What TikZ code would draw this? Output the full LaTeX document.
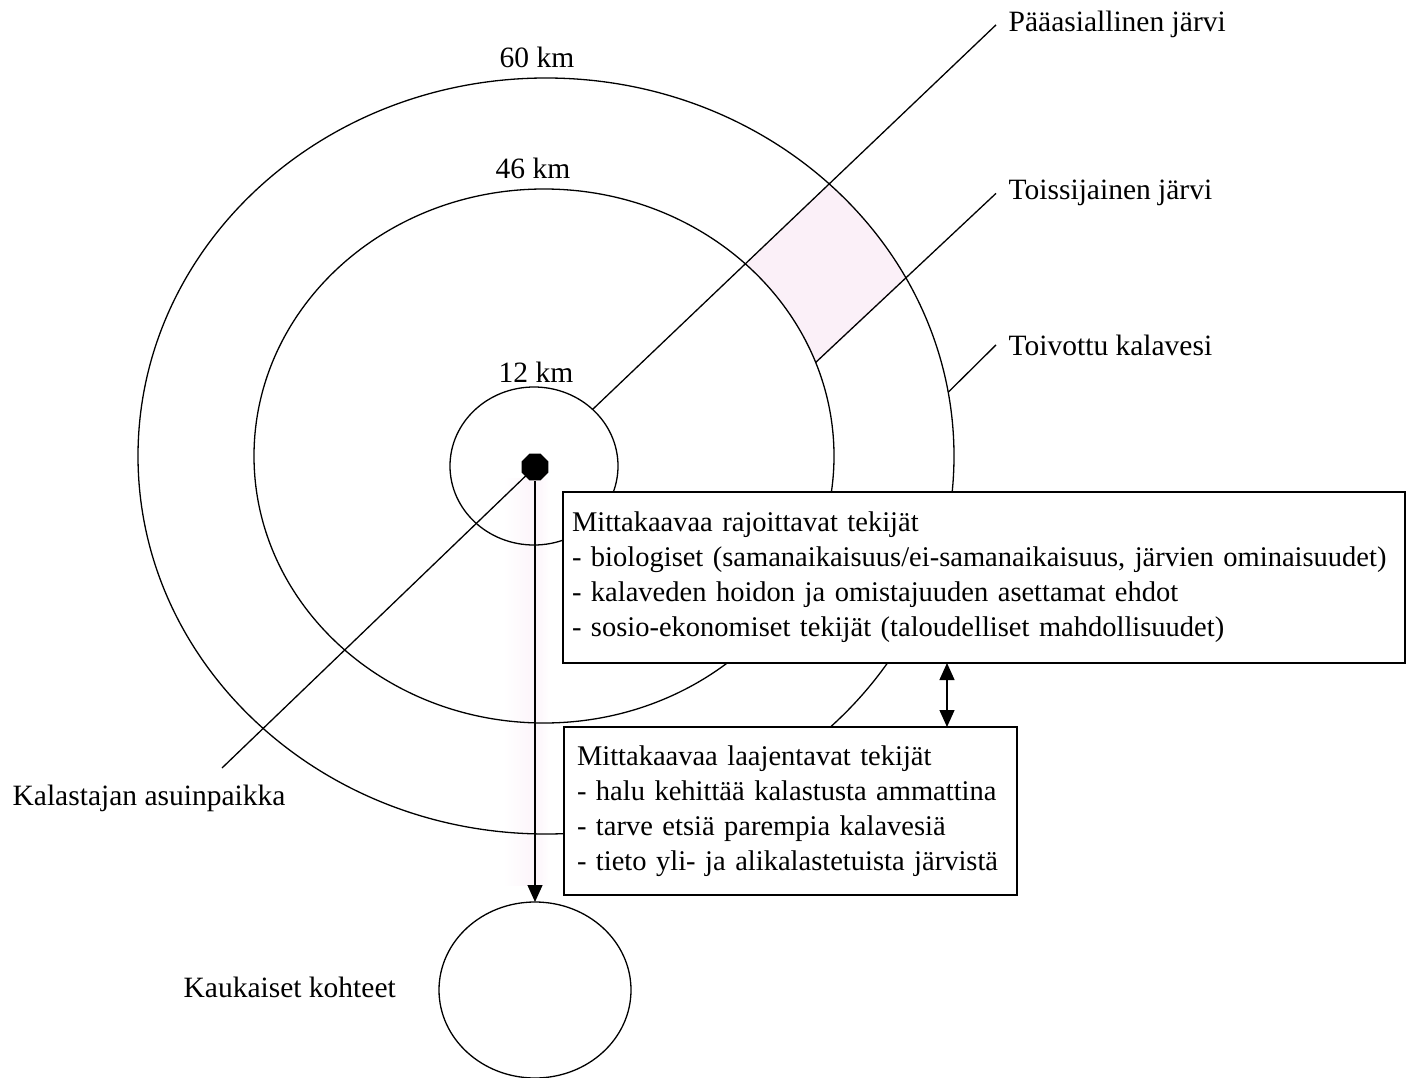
\documentclass[tikz,border=0pt]{standalone}
\usepackage{fontspec}
\setmainfont{Liberation Serif}
\usetikzlibrary{shapes.geometric,arrows.meta,calc}
\definecolor{pinkfill}{RGB}{251,240,248}
\definecolor{stripfill}{RGB}{252,244,250}
\begin{document}
\begin{tikzpicture}[x=1pt,y=-1pt,line width=1.3pt,
  >={Triangle[width=15pt,length=17pt]},
  ring/.style={ellipse,draw,inner sep=0pt,outer sep=0pt},
  lbl/.style={inner sep=0pt,font=\fontsize{29.5}{35}\selectfont},
  rlbl/.style={lbl,inner xsep=12pt},
  factorbox/.style={draw,fill=white,align=left,inner ysep=0pt,outer sep=0pt,
    font=\fontsize{28.5}{35}\selectfont}]
\useasboundingbox (0,0) rectangle (1406,1078);
\fill[white] (0,0) rectangle (1406,1078);

% faint shading
\shade[left color=white,right color=stripfill,draw=none] (503,478) rectangle (535,885);
\shade[left color=stripfill,right color=white,draw=none] (535,478) rectangle (550,885);
\begin{scope}
  \clip (1100,-76) -- (650,357) -- (760,416) -- (1098,99) -- cycle;
  \fill[pinkfill,even odd rule] (546,456) ellipse [x radius=408,y radius=378]
        (544,456) ellipse [x radius=290,y radius=267];
\end{scope}

% rings
\node[ring,minimum width=816pt,minimum height=756pt] (r60) at (546,456) {};
\node[ring,minimum width=580pt,minimum height=534pt] (r46) at (544,456) {};
\node[ring,minimum width=168pt,minimum height=158pt] (r12) at (534,466) {};
\node[ring,minimum width=192pt,minimum height=176pt] (far) at (535,990) {};

% ring labels
\node[lbl,anchor=base] (k60) at (537,68) {60 km};
\node[lbl,anchor=base] (k46) at (533,179) {46 km};
\node[lbl,anchor=base] (k12) at (536,382) {12 km};

% right labels and leaders
\node[rlbl,anchor=base west] (pA) at (996,32) {Pääasiallinen järvi};
\node[rlbl,anchor=base west] (pB) at (996,200) {Toissijainen järvi};
\node[rlbl,anchor=base west] (pC) at (996,355) {Toivottu kalavesi};
\draw (pA.west) -- (r12.44);
\draw (pB.west) -- (r46.19);
\draw (pC.west) -- (r60.9);

% home and lower leader
\node[regular polygon,regular polygon sides=8,fill=black,inner sep=0pt,
      minimum size=29pt] (home) at (535,467) {};
\coordinate (kalEnd) at (222,768);
\draw (home.center) -- (kalEnd);
\node[lbl,anchor=base west] (kal) at (12,805) {Kalastajan asuinpaikka};
\node[lbl,anchor=base west] (kauk) at (183,997) {Kaukaiset kohteet};

% boxes
\node[factorbox,anchor=north west,inner xsep=9pt,text width=824pt,
      minimum height=171pt] (b1) at (563,492)
  {Mittakaavaa rajoittavat tekijät\\
   - biologiset (samanaikaisuus/ei-samanaikaisuus, järvien ominaisuudet)\\
   - kalaveden hoidon ja omistajuuden asettamat ehdot\\
   - sosio-ekonomiset tekijät (taloudelliset mahdollisuudet)};
\node[factorbox,anchor=north west,inner xsep=13pt,text width=427pt,
      minimum height=168pt] (b2) at (564,727)
  {Mittakaavaa laajentavat tekijät\\
   - halu kehittää kalastusta ammattina\\
   - tarve etsiä parempia kalavesiä\\
   - tieto yli- ja alikalastetuista järvistä};

% arrows
\draw[->] (home) -- (far);
\coordinate (ax) at (947,0);
\draw[<->] (b1.south -| ax) -- (b2.north -| ax);
\end{tikzpicture}
\end{document}
